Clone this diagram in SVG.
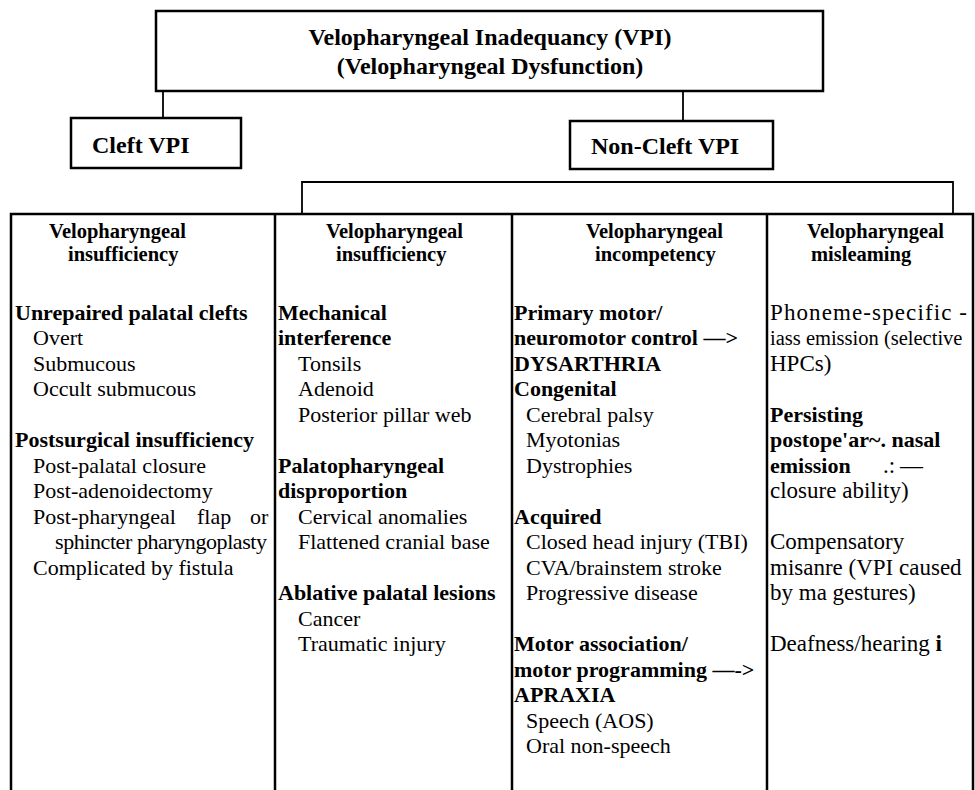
<svg xmlns="http://www.w3.org/2000/svg" width="975" height="790" viewBox="0 0 975 790">
<style>
text{font-family:"Liberation Serif","Times New Roman",serif;fill:#000}
.t{font-size:24px;font-weight:bold}
.h{font-size:20.5px;font-weight:bold}
.b{font-size:22px;font-weight:bold}
.r{font-size:22px}
.r4{font-size:23px}
.box{fill:#fff;stroke:#000;stroke-width:2.5}
.ln{fill:none;stroke:#000;stroke-width:1.8}
.tb{fill:none;stroke:#000;stroke-width:2.5}
</style>
<rect width="975" height="790" fill="#fff"/>
<g id="connectors">
<path class="ln" d="M163 91V118"/>
<path class="ln" d="M683 91V121"/>
<path class="ln" d="M302 214V182H953V214"/>
</g>
<g id="root">
<rect class="box" x="156" y="11" width="667" height="80"/>
<text class="t" x="490" y="45" text-anchor="middle">Velopharyngeal Inadequancy (VPI)</text>
<text class="t" x="490" y="74" text-anchor="middle">(Velopharyngeal Dysfunction)</text>
</g>
<g id="cleft">
<rect class="box" x="71" y="118" width="170" height="50"/>
<text class="t" x="92" y="153">Cleft VPI</text>
</g>
<g id="noncleft">
<rect class="box" x="570" y="121" width="203" height="48"/>
<text class="t" x="591" y="154">Non-Cleft VPI</text>
</g>
<g id="table">
<path class="tb" d="M11 790V214H973V790M275 214V790M512 214V790M767 214V790"/>
</g>
<g id="col1">
<text class="h" x="49" y="238">Velopharyngeal</text>
<text class="h" x="68" y="261">insufficiency</text>
<text class="b" x="15" y="319.5">Unrepaired palatal clefts</text>
<text class="r" x="33" y="345">Overt</text>
<text class="r" x="33" y="370.5">Submucous</text>
<text class="r" x="33" y="396">Occult submucous</text>
<text class="b" x="15" y="447">Postsurgical insufficiency</text>
<text class="r" x="33" y="472.5">Post-palatal closure</text>
<text class="r" x="33" y="498">Post-adenoidectomy</text>
<text class="r" y="523.5"><tspan x="33">Post-pharyngeal</tspan><tspan x="197">flap</tspan><tspan x="250">or</tspan></text>
<text class="r" x="55" y="549" textLength="212" lengthAdjust="spacing">sphincter pharyngoplasty</text>
<text class="r" x="33" y="574.5">Complicated by fistula</text>
</g>
<g id="col2">
<text class="h" x="326" y="238">Velopharyngeal</text>
<text class="h" x="336" y="261">insufficiency</text>
<text class="b" x="278" y="319.5">Mechanical</text>
<text class="b" x="278" y="345">interference</text>
<text class="r" x="298" y="370.5">Tonsils</text>
<text class="r" x="298" y="396">Adenoid</text>
<text class="r" x="298" y="421.5">Posterior pillar web</text>
<text class="b" x="278" y="472.5">Palatopharyngeal</text>
<text class="b" x="278" y="498">disproportion</text>
<text class="r" x="298" y="523.5">Cervical anomalies</text>
<text class="r" x="298" y="549">Flattened cranial base</text>
<text class="b" x="278" y="600">Ablative palatal lesions</text>
<text class="r" x="298" y="625.5">Cancer</text>
<text class="r" x="298" y="651">Traumatic injury</text>
</g>
<g id="col3">
<text class="h" x="586" y="238">Velopharyngeal</text>
<text class="h" x="595" y="261">incompetency</text>
<text class="b" x="514" y="319.5">Primary motor/</text>
<text class="b" x="514" y="345">neuromotor control —&gt;</text>
<text class="b" x="514" y="370.5">DYSARTHRIA</text>
<text class="b" x="514" y="396">Congenital</text>
<text class="r" x="526" y="421.5">Cerebral palsy</text>
<text class="r" x="526" y="447">Myotonias</text>
<text class="r" x="526" y="472.5">Dystrophies</text>
<text class="b" x="514" y="523.5">Acquired</text>
<text class="r" x="526" y="549">Closed head injury (TBI)</text>
<text class="r" x="526" y="574.5">CVA/brainstem stroke</text>
<text class="r" x="526" y="600">Progressive disease</text>
<text class="b" x="514" y="651">Motor association/</text>
<text class="b" x="514" y="676.5">motor programming —-&gt;</text>
<text class="b" x="514" y="702">APRAXIA</text>
<text class="r" x="526" y="727.5">Speech (AOS)</text>
<text class="r" x="526" y="753">Oral non-speech</text>
</g>
<g id="col4">
<text class="h" x="807" y="238">Velopharyngeal</text>
<text class="h" x="811" y="261">misleaming</text>
<text class="r4" x="770" y="319.5" textLength="197" lengthAdjust="spacing">Phoneme-specific -</text>
<text x="770" y="345" font-size="20.5px">iass emission (selective</text>
<text class="r4" x="770" y="370.5">HPCs)</text>
<text class="b" x="770" y="421.5">Persisting</text>
<text class="b" x="770" y="447">postope'ar~. nasal</text>
<text class="b" x="770" y="472.5">emission<tspan class="r4" font-weight="normal" x="883">.:</tspan><tspan class="r4" font-weight="normal" x="900">—</tspan></text>
<text class="r4" x="770" y="498">closure ability)</text>
<text class="r4" x="770" y="549">Compensatory</text>
<text class="r4" x="770" y="574.5">misanre (VPI caused</text>
<text class="r4" x="770" y="600">by ma gestures)</text>
<text class="r4" x="770" y="651">Deafness/hearing <tspan font-weight="bold">i</tspan></text>
</g>
</svg>
